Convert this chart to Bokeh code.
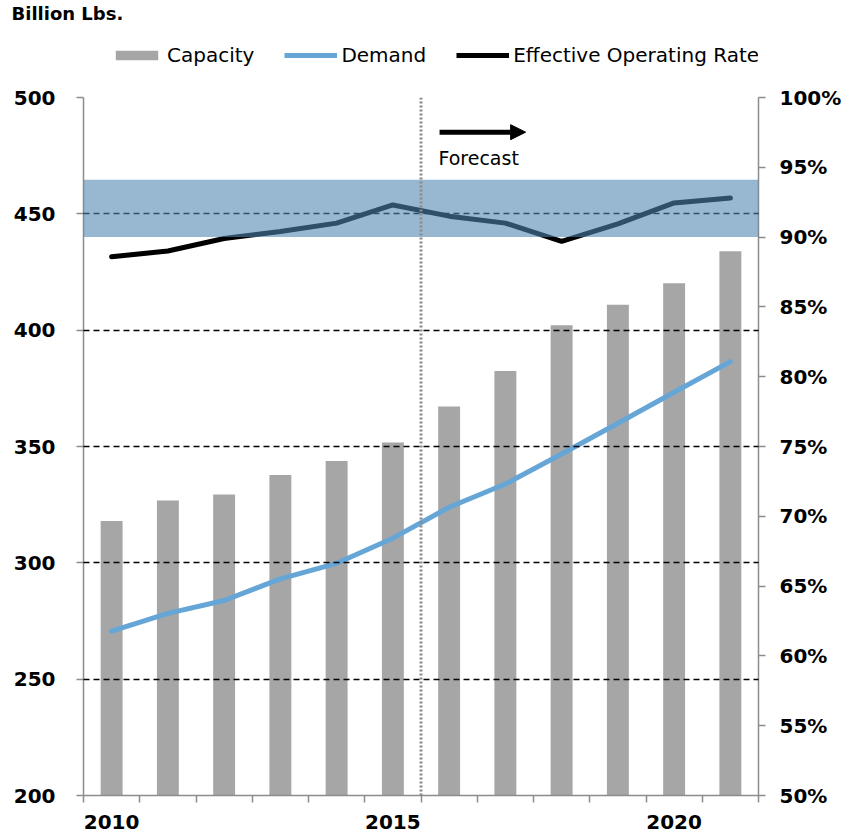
from bokeh.plotting import figure
from bokeh.layouts import column
from bokeh.models import (Range1d, LinearAxis, FixedTicker, BoxAnnotation, Span,
                          Arrow, NormalHead, Label, Legend, LegendItem,
                          ColumnDataSource, PrintfTickFormatter)
from bokeh.embed import file_html
from bokeh.resources import INLINE

# ---------------- data ----------------
years = [2010, 2011, 2012, 2013, 2014, 2015, 2016, 2017, 2018, 2019, 2020, 2021]
capacity = [318.0, 326.8, 329.4, 337.8, 343.8, 351.7, 367.2, 382.5, 402.1, 410.9, 420.2, 433.9]
demand = [270.6, 278.3, 283.8, 293.1, 299.8, 310.6, 323.9, 333.9, 346.8, 360.0, 373.3, 386.5]
operating_rate = [88.6, 89.0, 89.9, 90.4, 91.0, 92.3, 91.5, 91.0, 89.7, 90.95, 92.45, 92.8]
x_label_years = [2010, 2015, 2020]
left_ticks = [200, 250, 300, 350, 400, 450, 500]
right_ticks = [50, 55, 60, 65, 70, 75, 80, 85, 90, 95, 100]
target_band = [90.0, 94.1]
forecast_start = 2015.5
series_names = ["Capacity", "Demand", "Effective Operating Rate"]

# ---------------- styles ----------------
W = 844
HEAD_H = 82
MAIN_H = 752
AXIS = "#8c8c8c"
FONT = "DejaVu Sans"
BAR_COLOR = "#a6a6a6"
DEMAND_COLOR = "#66a6d7"
RATE_COLOR = "black"

src = ColumnDataSource(dict(year=years, capacity=capacity, demand=demand,
                            rate=operating_rate))

# ---------------- header: title + legend ----------------
# header ranges lie beyond the data, so its legend renderers draw nothing visible
head = figure(width=W, height=HEAD_H, output_backend="svg", toolbar_location=None,
              x_range=Range1d(2030, 2031), y_range=Range1d(1000, 1001),
              x_axis_type=None, y_axis_type=None,
              min_border_left=83, min_border_right=84, min_border_top=0,
              min_border_bottom=0)
head.outline_line_color = None
head.grid.visible = False
head.border_fill_color = "white"
head.background_fill_color = "white"

head.title.text = "Billion Lbs."
head.title.text_font = FONT
head.title.text_font_style = "bold"
head.title.text_font_size = "18px"
head.title.text_color = "black"
head.title.align = "left"
head.title.offset = -72
head.title.standoff = 0

k_bar = head.vbar(x="year", top="capacity", width=0.39, source=src,
                  fill_color=BAR_COLOR, line_color=None)
k_dem = head.line("year", "demand", source=src, line_color=DEMAND_COLOR, line_width=5)
k_rate = head.line("year", "rate", source=src, line_color=RATE_COLOR, line_width=5)

legend = Legend(items=[LegendItem(label=series_names[0], renderers=[k_bar]),
                       LegendItem(label=series_names[1], renderers=[k_dem]),
                       LegendItem(label=series_names[2], renderers=[k_rate])],
                orientation="horizontal", location=(27, 15),
                glyph_width=53, glyph_height=12, label_standoff=4, spacing=30,
                padding=0, margin=0, border_line_color=None,
                background_fill_alpha=0,
                label_text_font=FONT, label_text_font_size="20px",
                label_text_color="black")
head.add_layout(legend)

# ---------------- main chart ----------------
p = figure(width=W, height=MAIN_H, output_backend="svg", toolbar_location=None,
           x_range=Range1d(2009.5, 2021.5), y_range=Range1d(200, 500),
           min_border_left=83, min_border_right=84, min_border_top=97 - HEAD_H,
           min_border_bottom=39)
p.extra_y_ranges = {"pct": Range1d(50, 100)}
p.outline_line_color = None
p.background_fill_color = "white"
p.border_fill_color = "white"

# x axis: labels at 2010/2015/2020, tick marks between categories
xa = p.xaxis[0]
xa.ticker = FixedTicker(ticks=x_label_years,
                        minor_ticks=[y - 0.5 for y in years] + [years[-1] + 0.5])
xa.major_label_overrides = {y: str(y) for y in x_label_years}
xa.major_tick_out = 0
xa.major_tick_in = 0
xa.minor_tick_out = 7
xa.minor_tick_in = 0
xa.minor_tick_line_color = AXIS
xa.minor_tick_line_width = 1.5
xa.axis_line_color = AXIS
xa.axis_line_width = 1.5
xa.major_label_text_font = FONT
xa.major_label_text_font_style = "bold"
xa.major_label_text_font_size = "20px"
xa.major_label_text_color = "black"
xa.major_label_standoff = 12

# left axis
ya = p.yaxis[0]
ya.ticker = FixedTicker(ticks=left_ticks)
ya.major_tick_out = 7
ya.major_tick_in = 0
ya.minor_tick_out = 0
ya.minor_tick_in = 0
ya.major_tick_line_color = AXIS
ya.major_tick_line_width = 1.5
ya.axis_line_color = AXIS
ya.axis_line_width = 1.5
ya.major_label_text_font = FONT
ya.major_label_text_font_style = "bold"
ya.major_label_text_font_size = "20px"
ya.major_label_text_color = "black"
ya.major_label_standoff = 21

# right axis
ra = LinearAxis(y_range_name="pct", ticker=FixedTicker(ticks=right_ticks),
                formatter=PrintfTickFormatter(format="%d%%"))
ra.major_tick_out = 7
ra.major_tick_in = 0
ra.minor_tick_out = 0
ra.minor_tick_in = 0
ra.major_tick_line_color = AXIS
ra.major_tick_line_width = 1.5
ra.axis_line_color = AXIS
ra.axis_line_width = 1.5
ra.major_label_text_font = FONT
ra.major_label_text_font_style = "bold"
ra.major_label_text_font_size = "20px"
ra.major_label_text_color = "black"
ra.major_label_standoff = 14
p.add_layout(ra, "right")

# grid
p.xgrid.visible = False
p.ygrid.ticker = FixedTicker(ticks=left_ticks[1:])
p.ygrid.grid_line_color = "black"
p.ygrid.grid_line_width = 1.4
p.ygrid.grid_line_dash = "6 4"
p.ygrid.level = "annotation"

# glyphs
bars = p.vbar(x="year", top="capacity", bottom=left_ticks[0], width=0.39, source=src,
              fill_color=BAR_COLOR, line_color=None)
dline = p.line("year", "demand", source=src, line_color=DEMAND_COLOR, line_width=5,
               line_cap="round", line_join="round")
rline = p.line("year", "rate", source=src, y_range_name="pct", line_color=RATE_COLOR,
               line_width=5, line_cap="round", line_join="round")

# target band (drawn over the operating-rate line)
band = BoxAnnotation(bottom=target_band[0], top=target_band[1], y_range_name="pct",
                     fill_color="#5086b0", fill_alpha=0.59, line_color=None,
                     level="annotation")
p.add_layout(band)

# forecast divider
p.add_layout(Span(location=forecast_start, dimension="height", line_color="#8a8a8a",
                  line_width=3, line_dash="2 2"))

# forecast arrow + label
p.add_layout(Arrow(x_start=2015.83, y_start=485.1, x_end=2017.36, y_end=485.1,
                   line_width=5, line_color="black",
                   end=NormalHead(size=15, fill_color="black", line_color="black")))
p.add_layout(Label(x=2015.81, y=473.8, text="Forecast", text_font=FONT,
                   text_font_size="19px", text_color="black",
                   text_baseline="alphabetic", text_align="left"))

layout = column(head, p, spacing=0)
open("out.html", "w").write(file_html(layout, INLINE))
